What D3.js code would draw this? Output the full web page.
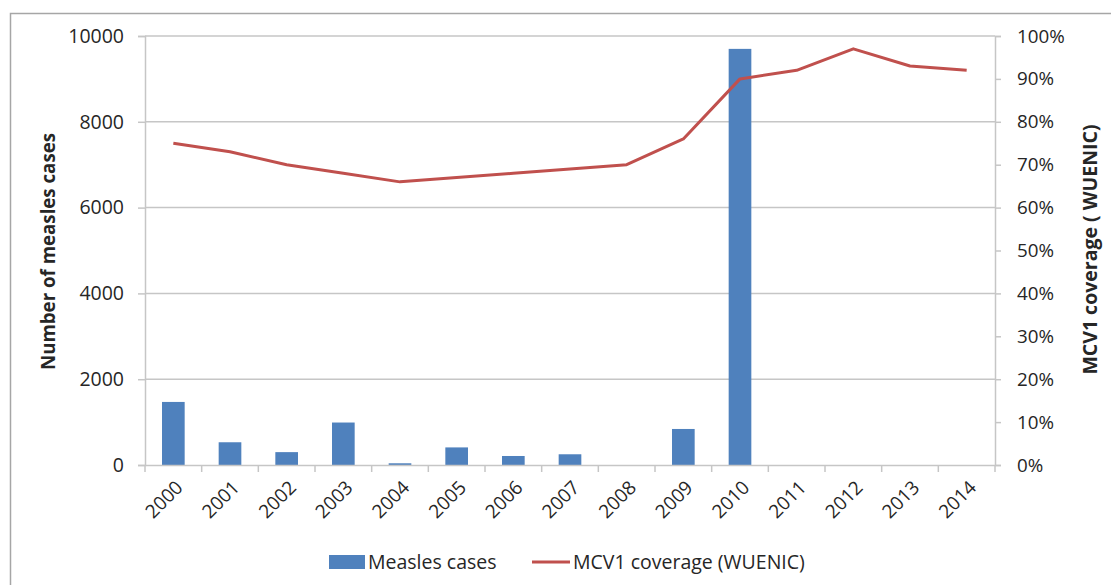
<!DOCTYPE html>
<html>
<head>
<meta charset="utf-8">
<script src="https://cdn.jsdelivr.net/npm/d3@7"></script>
<style>
  body { margin: 0; background: #fff; }
  svg { display: block; }
  text { font-family: "Open Sans", "Liberation Sans", sans-serif; fill: #262626; }
</style>
</head>
<body>
<svg id="chart" width="1111" height="585"></svg>
<script>
const years = ["2000","2001","2002","2003","2004","2005","2006","2007","2008","2009","2010","2011","2012","2013","2014"];
const measlesCases = [1470, 530, 300, 990, 40, 410, 210, 250, 0, 840, 9700, 0, 0, 0, 0];
const mcv1Coverage = [75, 73, 70, 68, 66, 67, 68, 69, 70, 76, 90, 92, 97, 93, 92];
const leftTicks = [0, 2000, 4000, 6000, 8000, 10000];
const rightTicks = [0, 10, 20, 30, 40, 50, 60, 70, 80, 90, 100];

const svg = d3.select("#chart");
const W = 1111, H = 585;
const m = { left: 145, right: 995, top: 36, bottom: 465 };

// outer border
svg.append("rect").attr("x", 10.5).attr("y", 13.5).attr("width", W + 20).attr("height", H + 20)
  .attr("fill", "none").attr("stroke", "#a6a6a6").attr("stroke-width", 1.5);

const x = d3.scaleBand().domain(years).range([m.left, m.right]).paddingInner(0).paddingOuter(0);
const yL = d3.scaleLinear().domain([0, 10000]).range([m.bottom, m.top]);
const yR = d3.scaleLinear().domain([0, 100]).range([m.bottom, m.top]);

const gridColor = "#c6c6c6";
// gridlines
svg.append("g").selectAll("line").data(leftTicks.filter(d => d > 0)).join("line")
  .attr("x1", m.left).attr("x2", m.right)
  .attr("y1", d => yL(d)).attr("y2", d => yL(d))
  .attr("stroke", gridColor).attr("stroke-width", 1.5);

// left axis
const axL = svg.append("g").attr("transform", `translate(${m.left},0)`)
  .call(d3.axisLeft(yL).tickValues(leftTicks).tickSize(7).tickPadding(14).tickFormat(d3.format("d")));
axL.select(".domain").attr("stroke", gridColor).attr("stroke-width", 1.5);
axL.selectAll(".tick line").attr("stroke", gridColor).attr("stroke-width", 1.5);
axL.selectAll("text").style("font-size", "19.5px").attr("fill", "#262626");

// right axis
const axR = svg.append("g").attr("transform", `translate(${m.right},0)`)
  .call(d3.axisRight(yR).tickValues(rightTicks).tickSize(6).tickPadding(16).tickFormat(d => d + "%"));
axR.select(".domain").attr("stroke", gridColor).attr("stroke-width", 1.5);
axR.selectAll(".tick line").attr("stroke", gridColor).attr("stroke-width", 1.5);
axR.selectAll("text").style("font-size", "18.8px").attr("fill", "#262626");

// bars
const barW = x.bandwidth() / 2.5;
svg.append("g").selectAll("rect").data(years).join("rect")
  .attr("x", (d) => x(d) + (x.bandwidth() - barW) / 2)
  .attr("width", barW)
  .attr("y", (d, i) => yL(measlesCases[i]))
  .attr("height", (d, i) => m.bottom - yL(measlesCases[i]))
  .attr("fill", "#4f81bd");

// bottom axis
const axB = svg.append("g").attr("transform", `translate(0,${m.bottom})`)
  .call(d3.axisBottom(x).tickSize(0).tickPadding(0).tickFormat(""));
axB.select(".domain").attr("stroke", gridColor).attr("stroke-width", 1.5);
const boundaries = years.map(d => x(d)).concat([m.right]);
svg.append("g").selectAll("line").data(boundaries).join("line")
  .attr("x1", d => d).attr("x2", d => d).attr("y1", m.bottom).attr("y2", m.bottom + 7)
  .attr("stroke", gridColor).attr("stroke-width", 1.5);

// x labels rotated
svg.append("g").selectAll("text").data(years).join("text")
  .attr("transform", d => `translate(${x(d) + x.bandwidth() / 2 + 6},${m.bottom + 19}) rotate(-45)`)
  .attr("text-anchor", "end").attr("dy", "0.35em")
  .style("font-size", "19px").text(d => d);

// line
const line = d3.line().x((d, i) => x(years[i]) + x.bandwidth() / 2).y(d => yR(d));
svg.append("path").datum(mcv1Coverage).attr("d", line)
  .attr("fill", "none").attr("stroke", "#c0504d").attr("stroke-width", 3).attr("stroke-linejoin", "round");

// axis titles
svg.append("text").attr("transform", `translate(55,${(m.top + m.bottom) / 2 + 1}) rotate(-90)`)
  .attr("text-anchor", "middle").style("font-size", "18.7px").style("font-weight", "bold")
  .text("Number of measles cases");
svg.append("text").attr("transform", `translate(1097,${(m.top + m.bottom) / 2 - 1}) rotate(-90)`)
  .attr("text-anchor", "middle").style("font-size", "19.5px").style("font-weight", "bold")
  .text("MCV1 coverage ( WUENIC)");

// legend
const lg = svg.append("g");
lg.append("rect").attr("x", 329).attr("y", 555).attr("width", 36).attr("height", 14).attr("fill", "#4f81bd");
lg.append("text").attr("x", 368).attr("y", 562).attr("dy", "0.35em").style("font-size", "19.5px").text("Measles cases");
lg.append("line").attr("x1", 532).attr("x2", 570).attr("y1", 562).attr("y2", 562)
  .attr("stroke", "#c0504d").attr("stroke-width", 3);
lg.append("text").attr("x", 573).attr("y", 562).attr("dy", "0.35em").style("font-size", "19.5px").text("MCV1 coverage (WUENIC)");
</script>
</body>
</html>
